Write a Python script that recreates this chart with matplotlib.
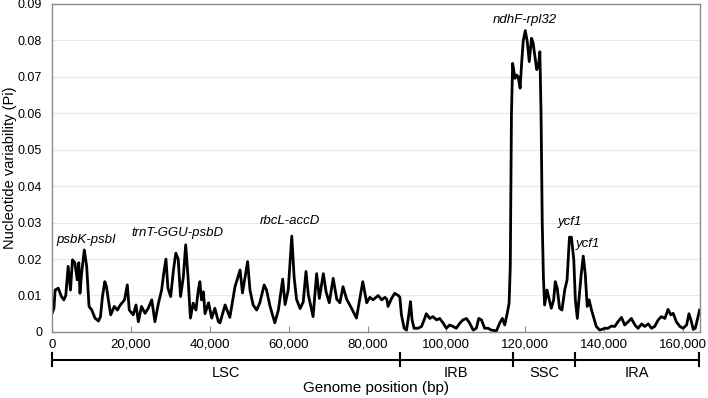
import matplotlib.pyplot as plt
import numpy as np
from matplotlib.ticker import FuncFormatter

plt.rcParams['font.family'] = ['Liberation Sans', 'DejaVu Sans']

# sliding window position (kb) and nucleotide diversity
pos_kb = [0, 0.5, 0.8, 1.6, 2.4, 3.0, 3.5, 4.1, 4.7, 5.2, 5.8, 6.4, 6.8, 7.1, 7.5,
          8.2, 8.8, 9.4, 10.1, 10.9, 11.8, 12.3, 12.8, 13.4, 13.8, 14.3, 14.9, 15.8,
          16.6, 17.2, 17.7, 18.4, 19.1, 19.6, 20.6, 21.3, 21.9, 22.7, 23.6, 24.4,
          25.3, 26.1, 27.0, 27.8, 28.4, 28.9, 29.4, 30.1, 30.8, 31.4, 32.0, 32.6,
          33.3, 33.9, 34.5, 35.1, 35.8, 36.5, 37.1, 37.5, 37.9, 38.4, 38.8, 39.7,
          40.5, 41.3, 42.2, 42.6, 43.9, 45.1, 46.4, 47.7, 48.3, 49.6, 50.2, 51.0,
          51.9, 52.7, 53.8, 54.4, 55.3, 56.5, 57.4, 58.5, 59.1, 59.9, 60.8, 61.4,
          62.0, 62.9, 63.7, 64.4, 65.0, 66.2, 67.1, 67.8, 68.8, 69.5, 70.3, 71.3,
          72.2, 73.0, 73.8, 74.7, 76.0, 77.2, 78.8, 79.8, 80.6, 81.4, 82.7, 83.6,
          84.4, 84.9, 85.2, 86.1, 86.9, 87.8, 88.2, 88.6, 89.3, 89.9, 90.5, 90.9,
          91.3, 91.8, 92.8, 93.7, 94.5, 94.9, 95.8, 96.6, 97.5, 98.3, 99.2, 100.0,
          100.8, 101.7, 102.5, 103.4, 104.2, 105.1, 105.9, 106.8, 107.6, 108.2,
          108.9, 109.7, 110.6, 111.4, 112.7, 113.5, 114.2, 114.8, 115.4, 115.9,
          116.2, 116.5, 116.8, 117.4, 117.8, 118.2, 118.7, 119.1, 119.5, 120.0,
          120.5, 121.0, 121.6, 122.0, 122.5, 122.9, 123.3, 123.7, 124.0, 124.3,
          124.6, 124.9, 125.5, 126.0, 126.6, 127.2, 127.6, 128.1, 128.7, 129.3,
          130.0, 130.6, 131.2, 131.7, 132.3, 132.7, 133.2, 133.6, 134.2, 134.7,
          135.2, 135.7, 136.2, 136.8, 137.4, 138.0, 138.9, 140.2, 141.0, 141.8,
          142.7, 143.5, 144.4, 145.2, 146.1, 146.9, 147.8, 148.6, 149.5, 150.3,
          151.2, 152.0, 152.8, 153.7, 154.5, 155.4, 156.2, 156.9, 157.5, 158.3,
          159.2, 160.0, 160.9, 161.5, 162.0, 162.6, 163.1, 163.7, 164.2]
pi = [0.0050, 0.0065, 0.0115, 0.0120, 0.0097, 0.0088, 0.0100, 0.0180, 0.0115, 0.0198,
      0.0190, 0.0143, 0.0190, 0.0106, 0.0160, 0.0225, 0.0180, 0.0070, 0.0060, 0.0038,
      0.0030, 0.0042, 0.0097, 0.0138, 0.0125, 0.0088, 0.0047, 0.0070, 0.0060, 0.0072,
      0.0079, 0.0088, 0.0129, 0.0060, 0.0047, 0.0074, 0.0028, 0.0070, 0.0051, 0.0065,
      0.0088, 0.0028, 0.0079, 0.0115, 0.0166, 0.0200, 0.0120, 0.0097, 0.0170, 0.0216,
      0.0200, 0.0097, 0.0150, 0.0239, 0.0150, 0.0038, 0.0079, 0.0060, 0.0115, 0.0138,
      0.0088, 0.0110, 0.0050, 0.0080, 0.0038, 0.0065, 0.0028, 0.0025, 0.0074, 0.0040,
      0.0124, 0.0170, 0.0107, 0.0193, 0.0115, 0.0074, 0.0060, 0.0080, 0.0129, 0.0115,
      0.0070, 0.0025, 0.0060, 0.0145, 0.0075, 0.0115, 0.0263, 0.0150, 0.0090, 0.0064,
      0.0082, 0.0166, 0.0102, 0.0042, 0.0160, 0.0092, 0.0160, 0.0110, 0.0080, 0.0147,
      0.0090, 0.0080, 0.0124, 0.0090, 0.0064, 0.0038, 0.0138, 0.0080, 0.0095, 0.0088,
      0.0100, 0.0088, 0.0095, 0.0090, 0.0070, 0.0092, 0.0106, 0.0100, 0.0095, 0.0047,
      0.0010, 0.0005, 0.0050, 0.0083, 0.0033, 0.0010, 0.0010, 0.0015, 0.0037, 0.0050,
      0.0037, 0.0042, 0.0033, 0.0037, 0.0024, 0.0010, 0.0019, 0.0015, 0.0010, 0.0024,
      0.0033, 0.0037, 0.0024, 0.0005, 0.0010, 0.0037, 0.0033, 0.0010, 0.0010, 0.0005,
      0.0003, 0.0024, 0.0037, 0.0019, 0.0050, 0.0079, 0.0180, 0.0600, 0.0737, 0.0696,
      0.0705, 0.0700, 0.0669, 0.0742, 0.0800, 0.0827, 0.0797, 0.0742, 0.0806, 0.0792,
      0.0751, 0.0720, 0.0728, 0.0769, 0.0600, 0.0300, 0.0150, 0.0074, 0.0115, 0.0092,
      0.0065, 0.0088, 0.0138, 0.0120, 0.0065, 0.0060, 0.0115, 0.0143, 0.0260, 0.0260,
      0.0198, 0.0088, 0.0037, 0.0088, 0.0160, 0.0208, 0.0160, 0.0070, 0.0088, 0.0060,
      0.0037, 0.0015, 0.0005, 0.0010, 0.0010, 0.0016, 0.0015, 0.0028, 0.0040, 0.0019,
      0.0028, 0.0037, 0.0019, 0.0010, 0.0022, 0.0015, 0.0022, 0.0010, 0.0015, 0.0033,
      0.0042, 0.0037, 0.0062, 0.0047, 0.0051, 0.0028, 0.0015, 0.0010, 0.0019, 0.0050,
      0.0033, 0.0007, 0.0010, 0.0037, 0.0060]

# genome regions (bp)
region_names = ['LSC', 'IRB', 'SSC', 'IRA']
region_bounds = [0, 88200, 116800, 132700, 164100]

labels = ['psbK-psbI', 'trnT-GGU-psbD', 'rbcL-accD', 'ndhF-rpl32', 'ycf1', 'ycf1']
label_x = [8600, 31700, 60300, 120000, 131300, 135900]
label_y = [0.0252, 0.0272, 0.0305, 0.0856, 0.0302, 0.0242]

fig = plt.figure(figsize=(7.08, 3.98), dpi=100)
ax = fig.add_axes([0.0734, 0.166, 0.9153, 0.824])

x = np.array(pos_kb) * 1000
ax.plot(x, pi, color='black', lw=2.0, solid_joinstyle='round')

ax.set_xlim(0, 164300)
ax.set_ylim(0, 0.09)
ax.set_yticks(np.arange(0, 0.091, 0.01))
ax.yaxis.set_major_formatter(FuncFormatter(lambda v, p: '0' if v == 0 else '%.2f' % v))
ax.set_xticks(range(0, 160001, 20000))
ax.xaxis.set_major_formatter(FuncFormatter(lambda v, p: '{:,}'.format(int(v))))
ax.grid(axis='y', color='#e8e8e8', lw=0.8)
ax.set_axisbelow(True)
for s in ax.spines.values():
    s.set_color('#8c8c8c')
    s.set_linewidth(1.0)
ax.tick_params(axis='x', direction='in', length=4, color='#8c8c8c', labelsize=9.5, pad=5)
ax.tick_params(axis='y', length=0, labelsize=9, pad=7)

ax.set_ylabel('Nucleotide variability (Pi)', fontsize=10.5)
ax.yaxis.set_label_coords(-0.054, 0.5)

for t, lx, ly in zip(labels, label_x, label_y):
    ax.text(lx, ly, t, style='italic', fontsize=9.5, ha='center', va='center')

# region bar under the axis
bar_y = -0.085
trans = ax.get_xaxis_transform()
ax.plot([region_bounds[0], region_bounds[-1]], [bar_y, bar_y], color='black', lw=1.5,
        transform=trans, clip_on=False)
for b in region_bounds:
    ax.plot([b, b], [bar_y - 0.02, bar_y + 0.02], color='black', lw=1.5,
            transform=trans, clip_on=False)
for i, name in enumerate(region_names):
    mid = (region_bounds[i] + region_bounds[i + 1]) / 2
    ax.text(mid, bar_y - 0.04, name, transform=trans, ha='center', va='center', fontsize=10.5)

ax.text(0.5, -0.17, 'Genome position (bp)', transform=ax.transAxes, ha='center',
        va='center', fontsize=11)

fig.savefig('out.png', dpi=100)
